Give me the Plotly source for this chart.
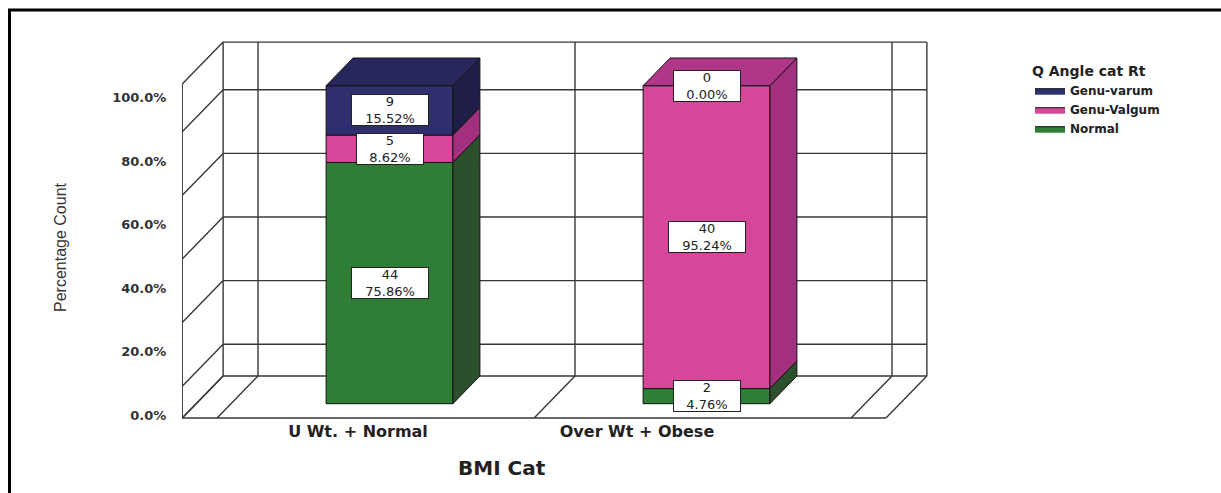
import plotly.graph_objects as go

# ---------------- data ----------------
categories = ["U Wt. + Normal", "Over Wt + Obese"]
series_names = ["Normal", "Genu-Valgum", "Genu-varum"]
normal_counts = [44, 2]
valgum_counts = [5, 40]
varum_counts = [9, 0]
normal_pct = [75.86, 4.76]
valgum_pct = [8.62, 95.24]
varum_pct = [15.52, 0.00]
y_tick_vals = [0, 20, 40, 60, 80, 100]
grid_vals = [10, 30, 50, 70, 90]

counts = [normal_counts, valgum_counts, varum_counts]
pcts = [normal_pct, valgum_pct, varum_pct]

# ---------------- styling ----------------
FRONT = ["#2f7d36", "#d4479a", "#302f6e"]
SIDE = ["#2c502c", "#a3307f", "#1f1e48"]
TOP = ["#2a5f2e", "#b0368a", "#28275c"]
WALL = "#3b3636"
EDGE = "#111111"

# pseudo-3D geometry (data units)
W_DX, W_DY = -0.129, -13.2      # full depth, back wall -> front
BAR_FRAC = 0.66                 # bar depth as fraction of wall depth
BAR_HALF = 0.2
X_LEFT, X_RIGHT = -0.61, 1.61
BAND_EDGES = [-0.5, 0.5, 1.5]
Y_TOP = 105

# page layout (pixels) and scale of the back plane
W, H = 1221, 493
L, R, T, B = 182, 940, 30, 420
X0_PX, X_SCALE = 416.5, 317.0     # pixel of x=0, pixels per category
Y0_PX, Y_SCALE = 376.0, 3.18      # pixel of y=0, pixels per percent
X_RANGE = [(L - X0_PX) / X_SCALE, (R - X0_PX) / X_SCALE]
Y_RANGE = [(Y0_PX - B) / Y_SCALE, (Y0_PX - T) / Y_SCALE]
TICK_SHIFT = 12.4
CAT_LABEL_PX = (358.0, 279.0)     # pixel of first category label, spacing


def px_x(p):
    return (p - L) / (R - L)


def px_y(p):
    return (B - p) / (B - T)


fig = go.Figure()

# ---------------- walls / grid ----------------
wx, wy = [], []


def seg(x0, y0, x1, y1):
    wx.extend([x0, x1, None])
    wy.extend([y0, y1, None])


for v in [0] + grid_vals + [Y_TOP]:
    seg(X_LEFT, v, X_RIGHT, v)
    seg(X_LEFT, v, X_LEFT + W_DX, v + W_DY)
for xv in [X_LEFT] + BAND_EDGES + [X_RIGHT]:
    seg(xv, 0, xv, Y_TOP)
    seg(xv, 0, xv + W_DX, W_DY)
seg(X_LEFT + W_DX, W_DY, X_LEFT + W_DX, Y_TOP + W_DY)
seg(X_LEFT + W_DX, W_DY, X_RIGHT + W_DX, W_DY)

fig.add_trace(go.Scatter(x=wx, y=wy, mode="lines",
                         line=dict(color=WALL, width=1.4),
                         hoverinfo="skip", showlegend=False))

# ---------------- bars ----------------
fx, fy = W_DX * BAR_FRAC, W_DY * BAR_FRAC
annotations = []
for ci, cat in enumerate(categories):
    base = 0.0
    top_series = max(si for si in range(3) if pcts[si][ci] > 0)
    for si, name in enumerate(series_names):
        v = pcts[si][ci]
        y0, y1 = base, base + v
        xl, xr = ci - BAR_HALF, ci + BAR_HALF
        if v > 0:
            fig.add_trace(go.Scatter(
                x=[xl + fx, xr + fx, xr + fx, xl + fx, xl + fx],
                y=[y0 + fy, y0 + fy, y1 + fy, y1 + fy, y0 + fy],
                mode="lines", fill="toself", fillcolor=FRONT[si],
                line=dict(color=EDGE, width=1), name=name,
                legendgroup=name, showlegend=(ci == 0), legendrank=10 - si,
                hoverinfo="skip"))
            fig.add_trace(go.Scatter(
                x=[xr + fx, xr, xr, xr + fx, xr + fx],
                y=[y0 + fy, y0, y1, y1 + fy, y0 + fy],
                mode="lines", fill="toself", fillcolor=SIDE[si],
                line=dict(color=EDGE, width=1), legendgroup=name,
                showlegend=False, hoverinfo="skip"))
            if si == top_series:
                fig.add_trace(go.Scatter(
                    x=[xl + fx, xl, xr, xr + fx, xl + fx],
                    y=[y1 + fy, y1, y1, y1 + fy, y1 + fy],
                    mode="lines", fill="toself", fillcolor=TOP[si],
                    line=dict(color=EDGE, width=1), legendgroup=name,
                    showlegend=False, hoverinfo="skip"))
        pct_txt = f"{v:.2f}%"
        annotations.append(dict(
            x=ci + fx, y=(y0 + y1) / 2 + fy, xref="x", yref="y",
            text=f"{counts[si][ci]}<br>{pct_txt}", showarrow=False,
            font=dict(family="DejaVu Sans", size=13, color="#222"),
            bgcolor="white", bordercolor="#222", borderwidth=1, borderpad=1,
            width=10 * len(pct_txt) + 14, height=28,
            xanchor="center", yanchor="middle"))
        base = y1

# dummy traces to attach the secondary axes
fig.add_trace(go.Scatter(x=[0], y=[50], yaxis="y2", mode="markers",
                         marker=dict(opacity=0), hoverinfo="skip",
                         showlegend=False))
fig.add_trace(go.Scatter(x=[0], y=[50], xaxis="x2", mode="markers",
                         marker=dict(opacity=0), hoverinfo="skip",
                         showlegend=False))

annotations.append(dict(
    x=px_x(60), y=px_y(247), xref="paper", yref="paper",
    text="Percentage Count", textangle=-90, showarrow=False,
    font=dict(family="Liberation Sans Narrow, Arial Narrow, Liberation Sans",
              size=16, color="#333"),
    xanchor="center", yanchor="middle"))
annotations.append(dict(
    x=px_x(502), y=px_y(468), xref="paper", yref="paper",
    text="BMI Cat", showarrow=False,
    font=dict(family="DejaVu Sans", size=20, color="#222", weight="bold"),
    xanchor="center", yanchor="middle"))

tick_font = dict(family="DejaVu Sans", size=13, color="#333", weight="bold")
cat_px0, cat_step = CAT_LABEL_PX

fig.update_layout(
    width=W, height=H,
    margin=dict(l=L, r=W - R, t=T, b=H - B, pad=0),
    paper_bgcolor="white", plot_bgcolor="white",
    xaxis=dict(range=X_RANGE, visible=False, fixedrange=True),
    yaxis=dict(range=Y_RANGE, visible=False, fixedrange=True),
    yaxis2=dict(overlaying="y", side="left", anchor="x",
                range=[Y_RANGE[0] + TICK_SHIFT, Y_RANGE[1] + TICK_SHIFT],
                tickmode="array", tickvals=y_tick_vals,
                ticktext=[f"{v:.1f}%" for v in y_tick_vals],
                ticks="outside", ticklen=12, tickcolor="rgba(0,0,0,0)",
                showgrid=False, zeroline=False, showline=False,
                tickfont=tick_font),
    xaxis2=dict(overlaying="x", side="bottom", anchor="y",
                range=[(L - cat_px0) / cat_step, (R - cat_px0) / cat_step],
                tickmode="array", tickvals=[0, 1], ticktext=categories,
                ticks="", showgrid=False, zeroline=False, showline=False,
                tickfont=dict(family="DejaVu Sans", size=16, color="#222",
                              weight="bold")),
    legend=dict(x=px_x(1030), y=px_y(58), xanchor="left", yanchor="top",
                xref="paper", yref="paper",
                title=dict(text="Q Angle cat Rt",
                           font=dict(family="DejaVu Sans", size=14,
                                     color="#222", weight="bold")),
                font=dict(family="DejaVu Sans", size=12, color="#222",
                          weight="bold"),
                itemwidth=30, tracegroupgap=0, bgcolor="rgba(0,0,0,0)"),
    annotations=annotations,
    shapes=[dict(type="rect", xref="paper", yref="paper",
                 x0=px_x(9.5), x1=px_x(1260), y0=px_y(10), y1=px_y(520),
                 line=dict(color="black", width=3), layer="above")],
)

fig.write_html("out.html")
